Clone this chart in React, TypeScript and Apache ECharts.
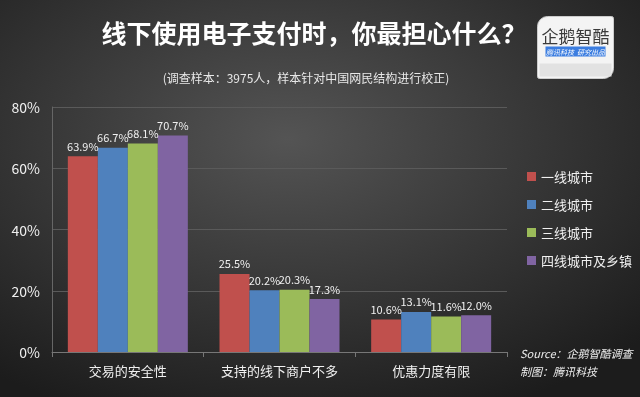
import React, { useEffect, useRef } from "react";
import * as echarts from "echarts";

const categories = ["交易的安全性", "支持的线下商户不多", "优惠力度有限"];
const seriesNames = ["一线城市", "二线城市", "三线城市", "四线城市及乡镇"];
const tier1 = [63.9, 25.5, 10.6];
const tier2 = [66.7, 20.2, 13.1];
const tier3 = [68.1, 20.3, 11.6];
const tier4 = [70.7, 17.3, 12.0];
const colors = ["#c0504d", "#4f81bd", "#9bbb59", "#8064a2"];
const yTicks = [0, 20, 40, 60, 80];

const FONT = "'Noto Sans CJK SC', 'Noto Sans', sans-serif";

export default function App() {
  const ref = useRef<HTMLDivElement>(null);
  useEffect(() => {
    if (!ref.current) return;
    const chart = echarts.init(ref.current, undefined, { renderer: "svg" });
    const data = [tier1, tier2, tier3, tier4];
    chart.setOption({
      animation: false,
      backgroundColor: {
        type: "radial",
        x: 0.45,
        y: 0.35,
        r: 0.75,
        colorStops: [
          { offset: 0, color: "#545454" },
          { offset: 1, color: "#1c1c1c" },
        ],
      },
      textStyle: { fontFamily: FONT },
      title: [
        {
          text: "线下使用电子支付时，你最担心什么？",
          left: 309,
          top: 14,
          textAlign: "center",
          textStyle: { color: "#ffffff", fontSize: 25, fontWeight: "bold", fontFamily: FONT },
        },
        {
          text: "(调查样本：3975人，样本针对中国网民结构进行校正)",
          left: 301,
          top: 66,
          textAlign: "center",
          textStyle: { color: "#e8e8e8", fontSize: 12, fontWeight: "normal", fontFamily: FONT },
        },
      ],
      legend: {
        orient: "vertical",
        left: 522,
        top: 165,
        itemWidth: 9,
        itemHeight: 9,
        itemGap: 15,
        icon: "rect",
        textStyle: { color: "#f0f0f0", fontSize: 13, fontFamily: FONT },
        data: seriesNames,
      },
      grid: { left: 52, right: 133, top: 107, bottom: 45 },
      xAxis: {
        type: "category",
        data: categories,
        axisLine: { lineStyle: { color: "#777777" } },
        axisTick: { show: true, lineStyle: { color: "#777777" } },
        axisLabel: { color: "#f0f0f0", fontSize: 13, margin: 12, interval: 0, fontFamily: FONT },
      },
      yAxis: {
        type: "value",
        min: 0,
        max: 80,
        interval: 20,
        axisLine: { show: true, lineStyle: { color: "#666666" } },
        axisTick: { show: false },
        axisLabel: {
          color: "#f0f0f0",
          fontSize: 14,
          margin: 12,
          fontFamily: FONT,
          formatter: (v: number) => (yTicks.includes(v) ? v + "%" : ""),
        },
        splitLine: { lineStyle: { color: "#5a5a5a", width: 1 } },
      },
      series: seriesNames.map((name, i) => ({
        name,
        type: "bar",
        data: data[i],
        barWidth: 30,
        barGap: "0%",
        itemStyle: { color: colors[i] },
        label: {
          show: true,
          position: "top",
          distance: 5,
          color: "#f0f0f0",
          fontSize: 11,
          fontFamily: FONT,
          formatter: (p: any) => p.value.toFixed(1) + "%",
        },
      })),
      graphic: [
        {
          type: "group",
          left: 537,
          top: 16,
          children: [
            {
              type: "rect",
              shape: { x: 0, y: 0, width: 76, height: 62, r: [10, 2, 10, 2] },
              style: { fill: "#f4f4f4", stroke: "#cccccc", lineWidth: 1 },
            },
            {
              type: "rect",
              shape: { x: 2, y: 47, width: 72, height: 13 },
              style: { fill: "#e2e2e2" },
            },
            {
              type: "text",
              x: 38,
              y: 19,
              style: {
                text: "企鹅智酷",
                fill: "#3a3a3a",
                fontSize: 17,
                fontFamily: FONT,
                align: "center",
                verticalAlign: "middle",
              },
            },
            {
              type: "rect",
              shape: { x: 8, y: 30, width: 60, height: 10 },
              style: { fill: "#3b7de0" },
            },
            {
              type: "text",
              x: 38,
              y: 35,
              style: {
                text: "腾讯科技  研究出品",
                fill: "#ffffff",
                fontSize: 7,
                fontStyle: "italic",
                fontFamily: FONT,
                align: "center",
                verticalAlign: "middle",
              },
            },
          ],
        },
        {
          type: "text",
          left: 520,
          top: 347,
          style: {
            text: "Source：企鹅智酷调查",
            fill: "#eeeeee",
            fontSize: 11,
            fontStyle: "italic",
            fontFamily: FONT,
          },
        },
        {
          type: "text",
          left: 520,
          top: 365,
          style: {
            text: "制图：腾讯科技",
            fill: "#eeeeee",
            fontSize: 11,
            fontStyle: "italic",
            fontFamily: FONT,
          },
        },
      ],
    });
    return () => chart.dispose();
  }, []);
  return (
    <div
      ref={ref}
      style={{ position: "fixed", left: 0, top: 0, width: 640, height: 397 }}
    />
  );
}
